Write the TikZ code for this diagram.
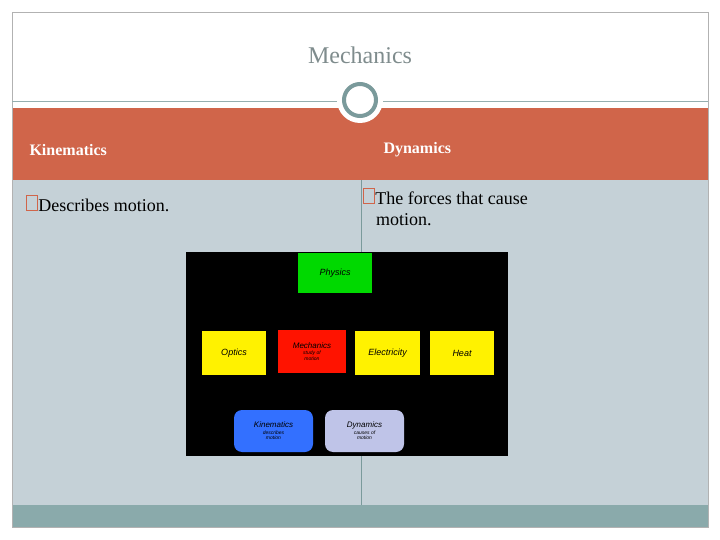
\documentclass[tikz,border=0pt]{standalone}
\usepackage{fontspec}
\setmainfont{Liberation Serif}
\newfontfamily\insetfont{Liberation Sans}
\definecolor{band}{HTML}{D0654A}
\definecolor{body}{HTML}{C5D1D7}
\definecolor{foot}{HTML}{8AAAAB}
\definecolor{ring}{HTML}{7A9A9B}
\definecolor{titlegray}{HTML}{7F8C8D}
\newcommand\sqbullet{\tikz[baseline=-1pt]\draw[band,line width=1.2pt](0,0)rectangle(11pt,15pt);}
\begin{document}
\begin{tikzpicture}[x=1pt,y=-1pt]
  \tikzset{box/.style={rectangle, minimum width=#1, inner sep=0pt, align=center,
                       font=\insetfont\itshape\small, text=black},
           heading/.style={anchor=west, font=\bfseries\fontsize{16}{18}\selectfont, text=white},
           item/.style={anchor=north west, font=\fontsize{18}{22}\selectfont, align=left, inner sep=0pt}}
\useasboundingbox (0,0) rectangle (720,540);
\fill[white] (0,0) rectangle (720,540);
\fill[body] (12,180) rectangle (708,505);
\fill[band] (12,108) rectangle (708,180);
\fill[foot] (12,505) rectangle (708,527);
\draw[gray!60] (12,12) rectangle (708,527);
\draw[ring!80, thick] (12,101) -- (708,101);
\draw[ring] (361,180) -- (361,505);
\fill[white] (360,100) circle (23);
\draw[ring, line width=4pt, fill=white] (360,100) circle (16);
\node[font=\fontsize{24}{26}\selectfont, text=titlegray] (title) at (360,55) {Mechanics};
\node[heading] (kin) at (26,150) {Kinematics};
\node[heading] (dyn) at (380,150) {Dynamics};
\node[item] (desc) at (26,195) {\sqbullet Describes motion.};
\node[item] (forces) at (363,188) {\sqbullet The forces that cause\\[-1pt]\hspace{13pt}motion.};
% inset chart
\fill[black] (186,252) rectangle (508,456);
\node[box=74, fill=green!85!black, minimum height=40] (phys) at (335,273) {Physics};
\node[box=64, fill=yellow, minimum height=44] (opt) at (234,353) {Optics};
\node[box=68, fill=red!85!orange, minimum height=43, font=\insetfont\itshape\footnotesize] (mech) at (312,351.5) {Mechanics\\[-3pt]{\tiny study of}\\[-4pt]{\tiny motion}};
\node[box=65, fill=yellow, minimum height=44] (elec) at (387.5,353) {Electricity};
\node[box=64, fill=yellow, minimum height=44] (heat) at (462,353) {Heat};
\node[box=79, fill=blue!70!cyan!80, rounded corners=8, minimum height=42, font=\insetfont\itshape\footnotesize] (kinb) at (273.5,431) {Kinematics\\[-3pt]{\tiny describes}\\[-4pt]{\tiny motion}};
\node[box=79, fill=cyan!30!blue!25, rounded corners=8, minimum height=42, font=\insetfont\itshape\footnotesize] (dynb) at (364.5,431) {Dynamics\\[-3pt]{\tiny causes of}\\[-4pt]{\tiny motion}};
\end{tikzpicture}
\end{document}
